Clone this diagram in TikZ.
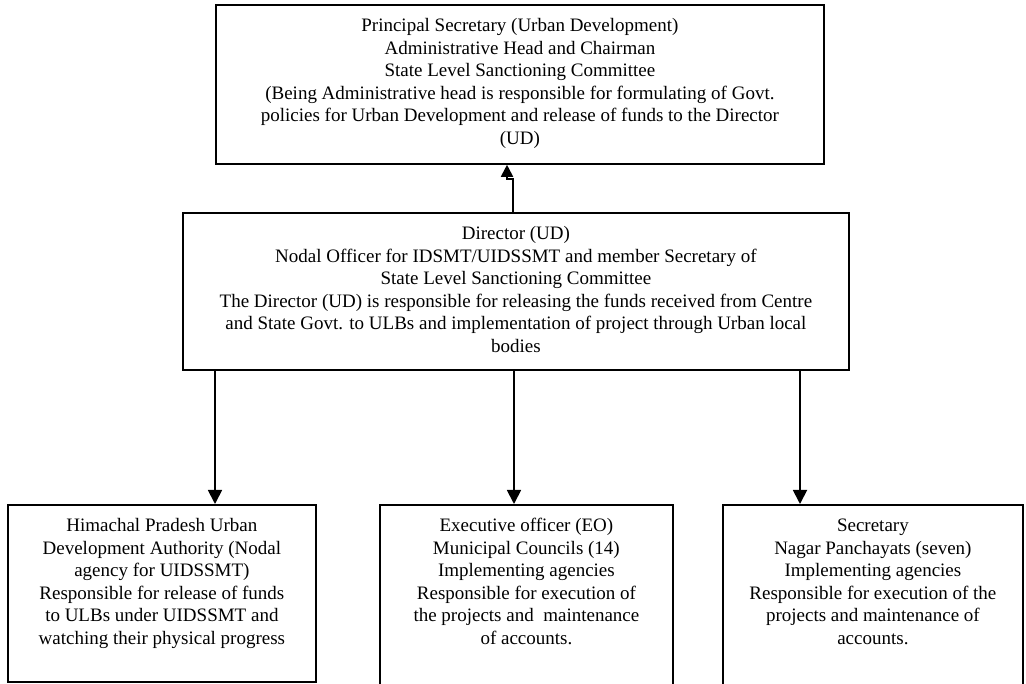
\documentclass[tikz,border=0pt]{standalone}
\usepackage{fontspec}
\setmainfont{Liberation Serif}
\usetikzlibrary{arrows.meta}
\newcommand{\boxtext}[3]{\parbox[t][#1][t]{#2}{\centering\rule{0pt}{27pt}#3}}
\begin{document}
\begin{tikzpicture}[
    x=1pt, y=-1pt,
    box_style/.style={draw, line width=1.8pt, inner sep=0pt, anchor=north west,
        font=\fontsize{19}{22.5}\selectfont},
    arrow_style/.style={line width=1.8pt, -{Triangle[length=14pt, width=14pt]}}
]
\useasboundingbox (0,0) rectangle (1026,684);
% Top level
\node[box_style] (ps) at (215,4) {\boxtext{159pt}{608pt}{%
    Principal Secretary (Urban Development)\\
    Administrative Head and Chairman\\
    State Level Sanctioning Committee\\
    (Being Administrative head is responsible for formulating of Govt.\\
    policies for Urban Development and release of funds to the Director\\
    (UD)}};
% Director
\node[box_style] (dir) at (182,212) {\boxtext{157pt}{666pt}{%
    Director (UD)\\
    Nodal Officer for IDSMT/UIDSSMT and member Secretary of\\
    State Level Sanctioning Committee\\
    The Director (UD) is responsible for releasing the funds received from Centre\\
    and State Govt. to ULBs and implementation of project through Urban local\\
    bodies}};
% Implementing level
\node[box_style] (hpuda) at (7,504) {\boxtext{177pt}{308pt}{%
    Himachal Pradesh Urban\\
    Development Authority (Nodal\\
    agency for UIDSSMT)\\
    Responsible for release of funds\\
    to ULBs under UIDSSMT and\\
    watching their physical progress}};
\node[box_style] (eo) at (379,504) {\boxtext{200pt}{293pt}{%
    Executive officer (EO)\\
    Municipal Councils (14)\\
    Implementing agencies\\
    Responsible for execution of\\
    the projects and~ maintenance\\
    of accounts.}};
\node[box_style] (np) at (722,504) {\boxtext{200pt}{300pt}{%
    Secretary\\
    Nagar Panchayats (seven)\\
    Implementing agencies\\
    Responsible for execution of the\\
    projects and maintenance of\\
    accounts.}};
% Connectors
\draw[arrow_style, {Triangle[length=12pt, width=12pt]}-] (ps.south -| 507,0) -- ++(0,14) -| (dir.north -| 513,0);
\draw[arrow_style] (dir.south -| 215,0) -- (hpuda.north -| 215,0);
\draw[arrow_style] (dir.south -| 514,0) -- (eo.north -| 514,0);
\draw[arrow_style] (dir.south -| 800,0) -- (np.north -| 800,0);
\end{tikzpicture}
\end{document}
